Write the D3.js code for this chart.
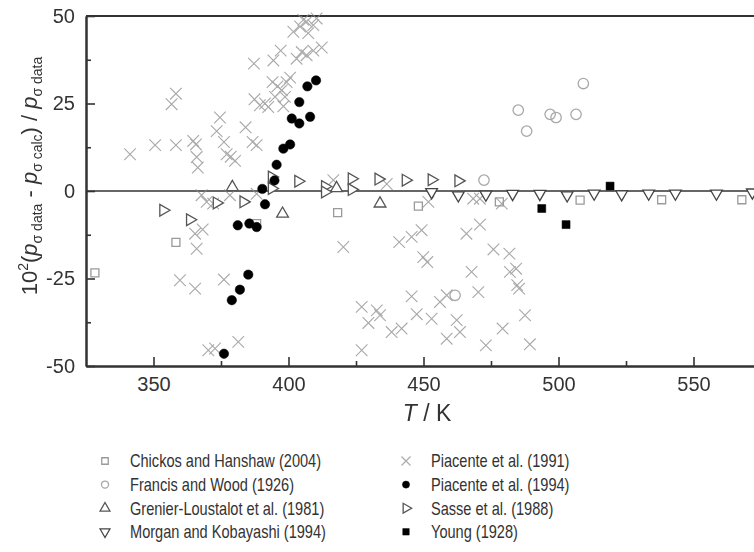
<!DOCTYPE html>
<html>
<head>
<meta charset="utf-8">
<script src="https://cdn.jsdelivr.net/npm/d3@7"></script>
<style>
  html, body { margin: 0; padding: 0; background: #fff; }
  svg { display: block; font-family: 'Liberation Sans', Arial, sans-serif; }
</style>
</head>
<body>
<div id="chart"></div>
<script>
// Deviation plot: 10^2 (p_data - p_calc) / p_data vs T / K
const xTicks = [350, 400, 450, 500, 550];
const xMinorTicks = [375, 425, 475, 525, 575];
const yTicks = [-50, -25, 0, 25, 50];
const yMinorTicks = [-37.5, -12.5, 12.5, 37.5];

// [T, deviation] pairs
const chickos = [[328.3, -23.4], [358.3, -14.7], [388.2, -9.3], [418.2, -6.2], [448.1, -4.3], [478.1, -3.1], [508.0, -2.6], [538.2, -2.5], [567.9, -2.5]];
const francis = [[472.4, 3.1], [461.7, -29.8], [485.1, 23.1], [488.2, 17.1], [496.9, 21.9], [499.1, 21.0], [506.5, 21.9], [509.2, 30.7]];
const grenier = [[379.2, 1.1], [397.8, -6.5], [417.8, 0.8], [433.9, -3.6]];
const morgan = [[453.0, -0.3], [462.9, -1.2], [473.1, -1.0], [483.0, -0.8], [493.1, -0.8], [503.2, -1.2], [513.2, -0.7], [523.4, -0.9], [533.4, -0.7], [543.3, -0.7], [558.5, -0.7], [571.8, -0.4]];
const piacente91 = [
  [341.3, 10.5], [350.6, 13.1], [356.7, 24.8], [358.3, 27.8], [358.3, 13.1], [364.7, 14.3], [365.7, 13.3], [366.0, 9.7], [366.4, 6.7],
  [374.6, 21.0], [373.4, 17.1], [376.1, 14.0], [377.1, 10.5], [378.6, 9.8], [380.2, 8.6], [384.1, 18.2], [386.7, 14.0], [388.2, 13.1],
  [387.2, 36.4], [387.4, 26.2], [389.4, 24.5], [391.3, 25.0], [392.5, 24.0], [394.1, 31.1], [395.9, 29.9], [397.5, 28.8], [399.3, 31.1],
  [400.6, 32.4], [398.7, 26.9], [395.0, 26.9], [398.1, 24.2], [394.4, 37.3], [397.1, 40.1], [403.0, 37.8], [404.9, 39.7], [406.7, 38.8],
  [409.2, 40.1], [412.3, 41.0], [401.8, 45.5], [404.3, 47.0], [406.7, 48.4], [409.2, 47.4], [410.4, 49.3], [405.5, 48.9], [407.3, 45.1],
  [367.8, -1.2], [369.7, -3.1], [372.1, -3.6], [378.3, -1.2], [388.2, -0.8],
  [365.4, -12.2], [368.2, -11.0], [366.0, -16.5], [359.8, -25.5], [365.4, -27.9], [376.1, -25.3], [370.3, -45.5], [372.8, -45.0], [381.4, -43.1],
  [416.6, 3.1], [436.4, 2.0], [420.3, -16.0], [427.1, -33.1], [429.6, -37.7], [432.7, -34.1], [433.9, -35.5], [427.1, -45.5], [438.2, -40.3],
  [441.9, -39.3], [441.0, -14.6], [445.6, -13.1], [449.3, -11.2], [449.9, -18.9], [451.4, -20.3], [445.6, -30.1], [447.5, -35.2], [453.0, -36.5],
  [456.1, -31.7], [458.6, -29.8], [462.3, -36.9], [463.5, -40.3], [458.6, -42.2], [465.9, -12.2], [470.9, -9.6], [467.8, -23.1], [470.3, -28.9],
  [473.1, -44.1], [475.9, -16.7], [479.3, -39.3], [481.8, -17.9], [482.0, -23.1], [484.3, -22.2], [484.7, -26.9], [485.4, -27.9], [487.6, -35.5],
  [489.4, -43.8], [468.4, -2.2], [470.9, -2.2], [479.0, -3.6], [451.8, -3.1]
];
const piacente94 = [[376.1, -46.5], [379.0, -31.2], [382.0, -28.2], [385.1, -23.9], [381.2, -9.8], [385.5, -9.3], [388.2, -10.3], [391.3, -3.8], [390.3, 0.6], [394.8, 3.0], [395.6, 7.5], [398.1, 12.1], [400.6, 13.3], [401.2, 20.7], [404.0, 19.3], [408.0, 21.2], [404.0, 25.4], [407.0, 29.9], [410.2, 31.6]];
const sasse = [[353.6, -5.5], [363.5, -8.2], [373.4, -3.4], [383.3, -3.1], [393.8, 4.0], [393.8, 0.7], [403.6, 2.8], [413.5, 1.3], [413.5, -0.3], [423.4, 3.5], [423.4, 0.4], [433.3, 3.4], [443.4, 3.1], [453.0, 3.2], [462.9, 2.9]];
const young = [[493.8, -5.0], [502.8, -9.6], [519.1, 1.4]];

const width = 754;
const height = 552;
const plot = { left: 86, top: 16, bottom: 366, right: 761 };

const x = d3.scaleLinear().domain([325, 575]).range([plot.left, plot.right]);
const y = d3.scaleLinear().domain([-50, 50]).range([plot.bottom, plot.top]);

const svg = d3.select('#chart').append('svg').attr('width', width).attr('height', height);

// symbol path builders
const xMark = (s) => `M${-s},${-s}L${s},${s}M${-s},${s}L${s},${-s}`;
const sym = (type, size) => d3.symbol().type(type).size(size)();

const series = [
  { name: 'Chickos and Hanshaw (2004)', data: chickos, path: sym(d3.symbolSquare, 64), legendPath: sym(d3.symbolSquare, 42), rot: 0, fill: 'none', stroke: '#9a9a9a', sw: 1.3 },
  { name: 'Francis and Wood (1926)', data: francis, path: sym(d3.symbolCircle, 85), legendPath: sym(d3.symbolCircle, 40), rot: 0, fill: 'none', stroke: '#a8a8a8', sw: 1.3 },
  { name: 'Grenier-Loustalot et al. (1981)', data: grenier, path: sym(d3.symbolTriangle, 60), legendPath: sym(d3.symbolTriangle, 42), rot: 0, fill: '#fff', stroke: '#555', sw: 1.3 },
  { name: 'Morgan and Kobayashi (1994)', data: morgan, path: sym(d3.symbolTriangle, 60), legendPath: sym(d3.symbolTriangle, 42), rot: 180, fill: '#fff', stroke: '#444', sw: 1.3 },
  { name: 'Piacente et al. (1991)', data: piacente91, path: xMark(5.8), legendPath: xMark(4.5), rot: 0, fill: 'none', stroke: '#8c8c8c', sw: 1.1, opacity: 0.75 },
  { name: 'Piacente et al. (1994)', data: piacente94, path: sym(d3.symbolCircle, 70), legendPath: sym(d3.symbolCircle, 40), rot: 0, fill: '#000', stroke: '#000', sw: 0.5 },
  { name: 'Sasse et al. (1988)', data: sasse, path: sym(d3.symbolTriangle, 60), legendPath: sym(d3.symbolTriangle, 42), rot: 90, fill: '#fff', stroke: '#555', sw: 1.3 },
  { name: 'Young (1928)', data: young, path: sym(d3.symbolSquare, 64), legendPath: sym(d3.symbolSquare, 42), rot: 0, fill: '#000', stroke: '#000', sw: 0.5 },
];

const axisColor = '#333';

// frame top line and zero line
svg.append('line')
  .attr('x1', plot.left).attr('x2', plot.right)
  .attr('y1', y(50)).attr('y2', y(50))
  .attr('stroke', axisColor).attr('stroke-width', 2);
svg.append('line')
  .attr('x1', plot.left).attr('x2', plot.right)
  .attr('y1', y(0)).attr('y2', y(0))
  .attr('stroke', axisColor).attr('stroke-width', 1.6);

// markers: draw order keeps crosses underneath
const drawOrder = [4, 0, 1, 2, 3, 6, 5, 7];
drawOrder.forEach((i) => {
  const s = series[i];
  svg.append('g')
    .attr('opacity', s.opacity || 1)
    .selectAll('path')
    .data(s.data)
    .join('path')
    .attr('transform', (d) => `translate(${x(d[0])},${y(d[1])}) rotate(${s.rot})`)
    .attr('d', s.path)
    .attr('fill', s.fill)
    .attr('stroke', s.stroke)
    .attr('stroke-width', s.sw);
});

// axes, ticks pointing inward
const styleAxis = (g) => {
  g.select('.domain').attr('stroke', axisColor).attr('stroke-width', 2);
  g.selectAll('.tick line').attr('stroke', axisColor).attr('stroke-width', 1.6);
  g.selectAll('.tick text').attr('fill', axisColor).attr('font-size', 20).attr('font-family', "'Liberation Sans', Arial, sans-serif");
};
const plain = (d) => String(d);

svg.append('g')
  .attr('transform', `translate(0,${plot.bottom})`)
  .call(d3.axisBottom(x).tickValues(xTicks).tickFormat(plain).tickSize(-9).tickSizeOuter(0).tickPadding(11))
  .call(styleAxis);
svg.append('g')
  .attr('transform', `translate(0,${plot.bottom})`)
  .call(d3.axisBottom(x).tickValues(xMinorTicks).tickSize(-5).tickSizeOuter(0).tickFormat(''))
  .call(styleAxis);

svg.append('g')
  .attr('transform', `translate(${plot.left},0)`)
  .call(d3.axisLeft(y).tickValues(yTicks).tickFormat(plain).tickSize(-9).tickSizeOuter(0).tickPadding(11))
  .call(styleAxis);
svg.append('g')
  .attr('transform', `translate(${plot.left},0)`)
  .call(d3.axisLeft(y).tickValues(yMinorTicks).tickSize(-5).tickSizeOuter(0).tickFormat(''))
  .call(styleAxis);

// x title
const xt = svg.append('text')
  .attr('x', 427).attr('y', 421)
  .attr('text-anchor', 'middle')
  .attr('font-size', 23).attr('fill', axisColor);
xt.append('tspan').attr('font-style', 'italic').text('T');
xt.append('tspan').text(' / K');

// y title with sub/superscripts
const yt = svg.append('text')
  .attr('transform', 'translate(37,176) rotate(-90)')
  .attr('text-anchor', 'middle')
  .attr('font-size', 22).attr('fill', axisColor);
const parts = [
  { t: '10' },
  { t: '2', sup: true },
  { t: '(' },
  { t: 'p', it: true },
  { t: 'σ data', sub: true },
  { t: ' - ' },
  { t: 'p', it: true },
  { t: 'σ calc', sub: true },
  { t: ') / ' },
  { t: 'p', it: true },
  { t: 'σ data', sub: true },
];
let shift = 0;
parts.forEach((p) => {
  const target = p.sup ? -9 : p.sub ? 5 : 0;
  yt.append('tspan')
    .attr('dy', target - shift)
    .attr('font-size', p.sup || p.sub ? 14 : 22)
    .attr('font-style', p.it ? 'italic' : null)
    .text(p.t);
  shift = target;
});

// legend, two columns of four (text is horizontally condensed in the original)
const legend = svg.append('g').attr('font-size', 18).attr('fill', axisColor);
series.forEach((s, i) => {
  const col = Math.floor(i / 4);
  const row = i % 4;
  const lx = col === 0 ? 105 : 406;
  const ly = 461 + row * 23.6;
  legend.append('path')
    .attr('transform', `translate(${lx},${ly}) rotate(${s.rot})`)
    .attr('d', s.legendPath)
    .attr('fill', s.fill)
    .attr('stroke', s.stroke)
    .attr('stroke-width', s.sw)
    .attr('opacity', s.opacity || 1);
  legend.append('text')
    .attr('transform', `translate(${lx + 25},${ly}) scale(0.81,1)`)
    .attr('dy', '0.35em')
    .text(s.name);
});
</script>
</body>
</html>
